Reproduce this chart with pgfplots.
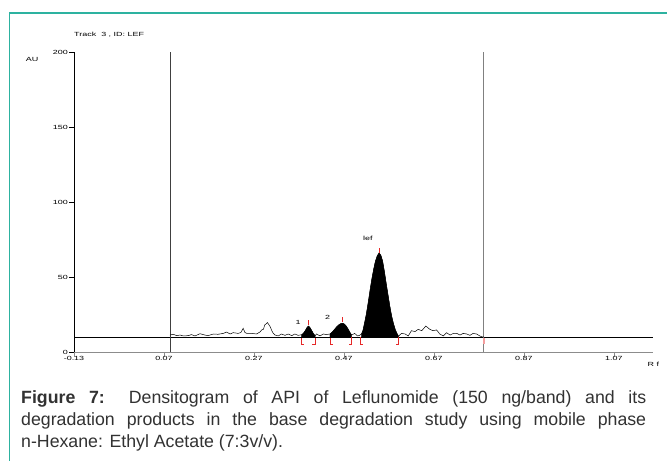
\documentclass[border=0pt]{standalone}
\usepackage{fontspec}
\setmainfont{Liberation Sans}
\newfontfamily\tickfont[FakeStretch=1.5]{Liberation Sans}
\usepackage{pgfplots}
\pgfplotsset{compat=1.18}
\usepackage{pgfplotstable}
\definecolor{framecol}{RGB}{45,178,160}
\definecolor{redmark}{RGB}{230,40,40}
\definecolor{capt}{RGB}{50,50,50}

% densitogram trace (Rf, AU)
\pgfplotstableread{
rf au
0.083 11.3
0.091 11.8
0.098 10.9
0.106 11.3
0.113 10.7
0.124 10.9
0.131 11.6
0.139 10.7
0.150 12.2
0.161 11.3
0.168 10.9
0.180 12.0
0.190 11.8
0.202 12.4
0.209 13.3
0.217 12.0
0.224 12.9
0.235 12.4
0.241 13.0
0.246 15.8
0.250 13.0
0.254 12.4
0.265 12.4
0.276 12.0
0.284 13.5
0.287 14.7
0.291 15.1
0.294 18.0
0.300 19.6
0.306 16.9
0.310 14.0
0.313 12.4
0.317 11.3
0.324 10.7
0.331 12.0
0.339 11.1
0.346 12.0
0.354 10.9
0.361 12.0
0.368 11.1
0.376 11.5
0.380 12.5
0.384 14.2
0.388 16.3
0.391 17.3
0.394 16.5
0.398 14.5
0.402 12.3
0.406 10.8
0.409 12.0
0.417 10.7
0.424 12.0
0.431 11.6
0.439 12.0
0.444 13.3
0.449 15.0
0.454 16.8
0.459 18.2
0.463 18.9
0.467 19.2
0.471 18.6
0.475 17.3
0.479 15.4
0.483 13.2
0.487 11.3
0.494 12.4
0.500 10.7
0.504 11.0
0.509 12.0
0.512 14.0
0.516 19.5
0.520 25.5
0.524 33.0
0.528 41.0
0.532 48.5
0.536 55.0
0.540 60.5
0.544 64.0
0.548 66.0
0.552 64.5
0.556 60.5
0.560 53.5
0.564 45.5
0.568 38.0
0.572 30.5
0.576 24.0
0.580 19.0
0.584 15.0
0.588 12.3
0.591 10.5
0.598 12.4
0.606 12.0
0.613 10.7
0.620 14.2
0.628 13.6
0.635 15.1
0.643 14.2
0.652 17.3
0.661 15.1
0.668 14.2
0.676 14.7
0.683 12.0
0.691 10.7
0.698 12.9
0.706 11.3
0.713 12.4
0.721 12.4
0.728 11.3
0.735 12.4
0.743 12.0
0.750 11.1
0.757 12.4
0.765 12.0
0.772 10.7
0.776 10.2
0.781 10.0
}\trace

\begin{document}
\begin{tikzpicture}
\useasboundingbox (0,0) rectangle (667bp,461bp);
\fill[white] (0,0) rectangle (667bp,461bp);
\draw[framecol, line width=1.2pt] (9.5bp,0) -- (9.5bp,448bp) -- (667bp,448bp);

\begin{axis}[
    at={(74bp,109bp)}, anchor=south west,
    scale only axis, width=579bp, height=300bp,
    xmin=-0.13, xmax=1.157, ymin=0, ymax=200,
    axis x line*=bottom, axis y line*=left,
    x axis line style={black!45, line width=1pt, -},
    y axis line style={black, line width=0.6pt, -},
    xtick={-0.13,0.07,0.27,0.47,0.67,0.87,1.07},
    xticklabels={-0.13,0.07,0.27,0.47,0.67,0.87,1.07},
    ytick={0,50,100,150,200},
    yticklabels={0,50,100,150,200},
    tick align=outside, major tick length=5bp,
    x tick style={black!45, line width=0.6pt},
    y tick style={black, line width=0.6pt},
    tick label style={font=\tickfont\fontsize{6}{7}\selectfont, inner sep=1pt},
    xticklabel style={yshift=2bp},
    clip=false,
  ]
  % baseline and window lines
  \addplot[black, line width=0.5pt] coordinates {(-0.13,10) (1.157,10)};
  \addplot[black!75, line width=0.7pt] coordinates {(0.085,0) (0.085,200)};
  \addplot[black!50, line width=1.2pt] coordinates {(0.781,0) (0.781,200)};

  % integrated peaks
  \addplot[fill=black, draw=black, line width=0.3pt] coordinates {
    (0.376,10) (0.376,11.5) (0.380,12.5) (0.384,14.2) (0.388,16.3) (0.391,17.3)
    (0.394,16.5) (0.398,14.5) (0.402,12.3) (0.406,10.8) (0.406,10)} -- cycle;
  \addplot[fill=black, draw=black, line width=0.3pt] coordinates {
    (0.439,10) (0.439,12.0) (0.444,13.3) (0.449,15.0) (0.454,16.8) (0.459,18.2)
    (0.463,18.9) (0.467,19.2) (0.471,18.6) (0.475,17.3) (0.479,15.4) (0.483,13.2)
    (0.487,11.3) (0.487,10)} -- cycle;
  \addplot[fill=black, draw=black, line width=0.3pt] coordinates {
    (0.509,10) (0.509,12.0) (0.512,14.0) (0.516,19.5) (0.520,25.5) (0.524,33.0)
    (0.528,41.0) (0.532,48.5) (0.536,55.0) (0.540,60.5) (0.544,64.0) (0.548,66.0)
    (0.552,64.5) (0.556,60.5) (0.560,53.5) (0.564,45.5) (0.568,38.0) (0.572,30.5)
    (0.576,24.0) (0.580,19.0) (0.584,15.0) (0.588,12.3) (0.591,10.5) (0.591,10)} -- cycle;

  \addplot[black, line width=0.5pt] table[x=rf, y=au] {\trace};

  % peak maxima markers
  \addplot[redmark, line width=0.6pt] coordinates {(0.391,18) (0.391,21)};
  \addplot[redmark, line width=0.6pt] coordinates {(0.467,20) (0.467,23.5)};
  \addplot[redmark, line width=0.6pt] coordinates {(0.548,66) (0.548,69.5)};
  % start / end brackets
  \addplot[redmark, line width=0.6pt] coordinates {(0.376,9) (0.376,5) (0.382,5)};
  \addplot[redmark, line width=0.6pt] coordinates {(0.406,9) (0.406,5) (0.400,5)};
  \addplot[redmark, line width=0.6pt] coordinates {(0.439,9) (0.439,5) (0.445,5)};
  \addplot[redmark, line width=0.6pt] coordinates {(0.487,10) (0.487,5) (0.481,5)};
  \addplot[redmark, line width=0.6pt] coordinates {(0.507,10) (0.507,5) (0.513,5)};
  \addplot[redmark, line width=0.6pt] coordinates {(0.591,10) (0.591,5) (0.585,5)};
  \addplot[redmark!45, line width=1.6pt] coordinates {(0.781,9.5) (0.781,5)};

  \begin{scope}[font=\tickfont\fontsize{6}{7}\selectfont]
    \node[anchor=west, inner sep=0pt] at (axis cs:-0.13,211.3) {Track\ \ 3 , ID: LEF};
    \node[inner sep=0pt] at (axis cs:-0.223,194.7) {AU};
    \node[inner sep=0pt] at (axis cs:1.158,-8) {R f};
    \node[inner sep=0pt] at (axis cs:0.368,20) {1};
    \node[inner sep=0pt] at (axis cs:0.434,23.3) {2};
    \node[inner sep=0pt] at (axis cs:0.523,76) {lef};
  \end{scope}
\end{axis}

\node[anchor=base west, text width=625bp, align=justify, inner sep=0pt,
      text=capt, font=\fontsize{17.8}{22}\selectfont] at (21bp,57bp)
  {\textbf{Figure 7:} Densitogram of API of Leflunomide (150 ng/band) and its\linebreak
   degradation products in the base degradation study using mobile phase\linebreak
   n-Hexane: Ethyl Acetate (7:3v/v).};
\end{tikzpicture}
\end{document}
